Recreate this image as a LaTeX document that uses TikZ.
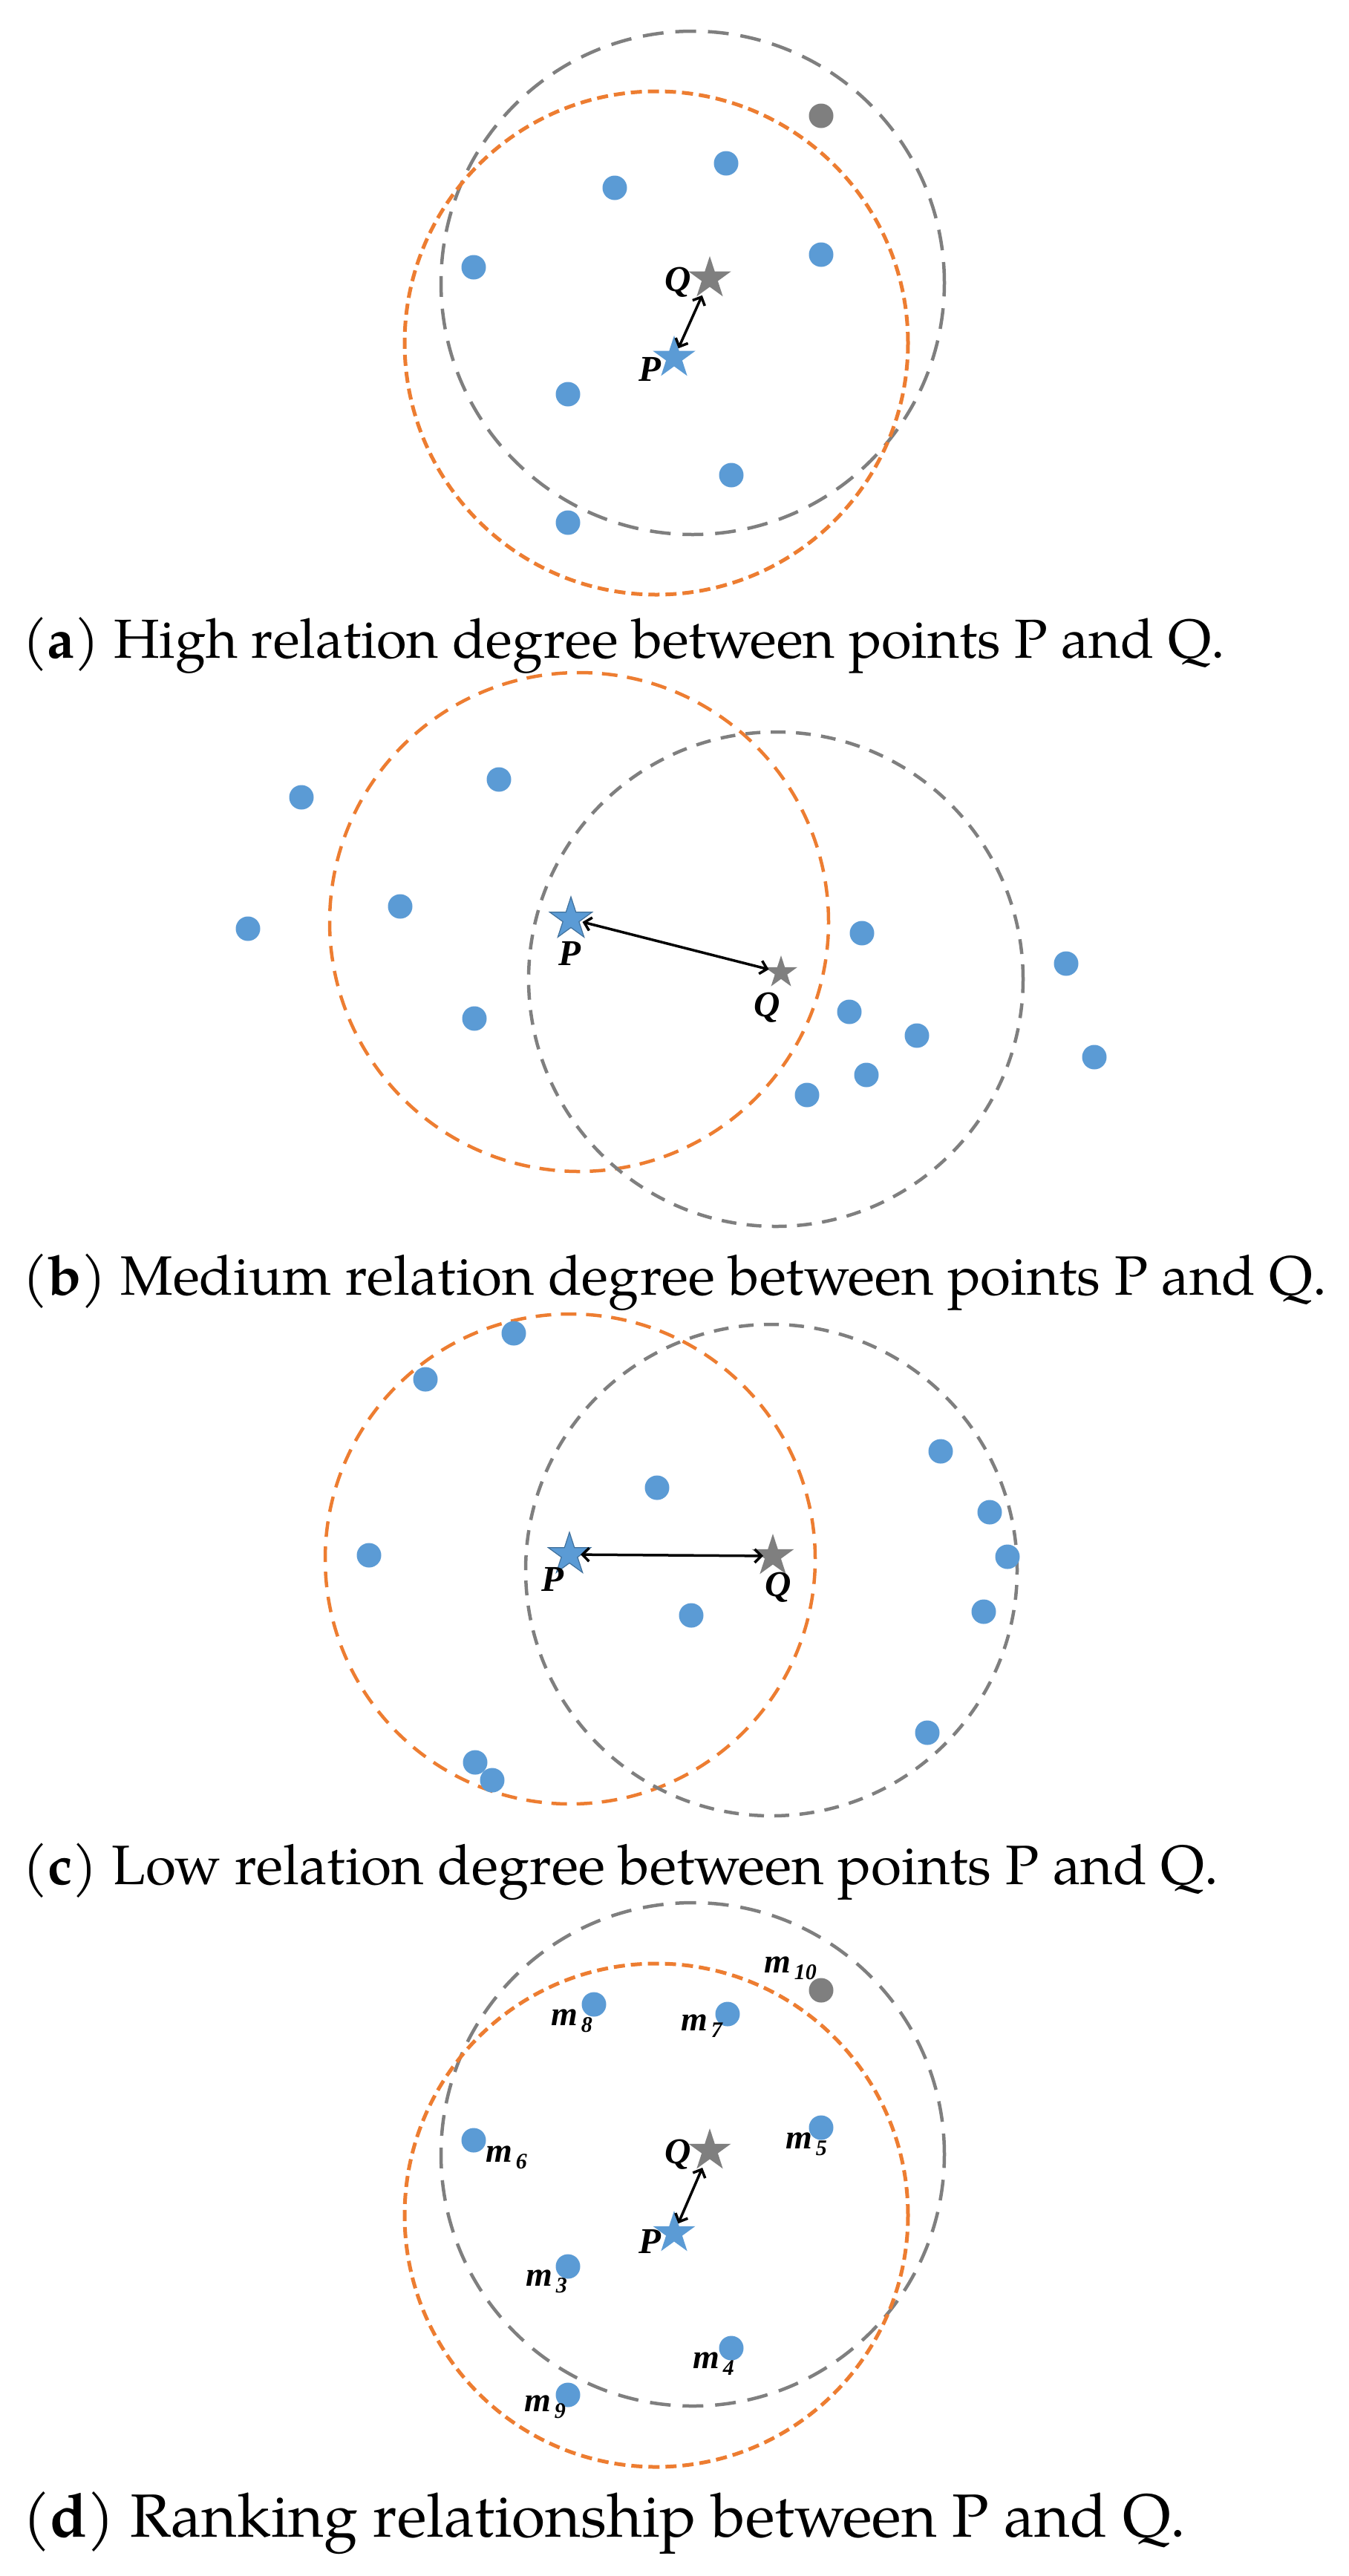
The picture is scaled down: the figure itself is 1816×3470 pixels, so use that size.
\documentclass[tikz,border=0pt]{standalone}
\usepackage{fontspec}
\setmainfont{texgyrepagella}[Extension=.otf, UprightFont=*-regular, BoldFont=*-bold, ItalicFont=*-italic, BoldItalicFont=*-bolditalic]
\newfontfamily\labfont{Liberation Serif}
\usetikzlibrary{shapes.geometric, arrows.meta}
\definecolor{dotblue}{HTML}{5B9BD5}
\definecolor{edgeblue}{HTML}{41719C}
\definecolor{rorange}{HTML}{ED7D31}
\definecolor{rgray}{HTML}{7F7F7F}
\tikzset{
  bluedot/.style={circle, fill=dotblue, inner sep=0pt, minimum size=33pt},
  graydot/.style={bluedot, fill=rgray},
  pstar/.style={star, star points=5, star point ratio=2.618, fill=dotblue, inner sep=0pt, minimum size=60pt},
  qstar/.style={pstar, fill=rgray},
  pstaro/.style={pstar, draw=edgeblue, line width=1.2pt},
  orangeA/.style={draw=rorange, line width=5pt, dash pattern=on 15pt off 8pt},
  grayA/.style={draw=rgray, line width=4.5pt, dash pattern=on 28pt off 16pt},
  orangeB/.style={draw=rorange, line width=4.5pt, dash pattern=on 21pt off 13pt},
  grayB/.style={draw=rgray, line width=4.5pt, dash pattern=on 20pt off 14pt},
  pqarrow/.style={line width=3.5pt, {Straight Barb[length=9pt,width=18pt]}-{Straight Barb[length=9pt,width=18pt]}},
  ptlabel/.style={inner sep=0pt, font=\labfont\bfseries\itshape\fontsize{49}{49}\selectfont},
  mlabel/.style={inner sep=0pt, anchor=base west, font=\labfont\bfseries\itshape\fontsize{46}{46}\selectfont},
  captext/.style={inner sep=0pt, anchor=base west, font=\fontsize{76}{90}\selectfont},
}
\newcommand{\msub}[1]{m\kern5pt\raisebox{-9pt}{\fontsize{30}{30}\selectfont #1}}
\begin{document}
\begin{tikzpicture}[x=1pt, y=-1pt]
\useasboundingbox[fill=white] (0,0) rectangle (1816,3470);
% ---------------- panel (a)
\draw[grayA] (933,381) circle[radius=339pt];
\draw[orangeA] (884,462) circle[radius=339pt];
\node[graydot] (a10) at (1106,156) {};
\node[bluedot] (a1) at (978,220) {};
\node[bluedot] (a2) at (828,253) {};
\node[bluedot] (a3) at (1106,343) {};
\node[bluedot] (a4) at (638,360) {};
\node[bluedot] (a5) at (765,531) {};
\node[bluedot] (a6) at (985,640) {};
\node[bluedot] (a7) at (765,704) {};
\node[qstar] (Qa) at (956,375) {};
\node[pstar] (Pa) at (908,482) {};
\draw[pqarrow, shorten <=14pt, shorten >=25pt] (Pa.center) -- (Qa.center);
\node[ptlabel] (QaL) at (913,380) {Q};
\node[ptlabel] (PaL) at (875,497) {P};
\node[captext] (capa) at (30,886) {\resizebox{1620pt}{!}{(\textbf{a}) High relation degree between points P and Q.}};
% ---------------- panel (b)
\draw[orangeB] (780,1242) circle[radius=336pt];
\draw[grayB] (1045,1319) circle[radius=333pt];
\node[bluedot] (b1) at (406,1074) {};
\node[bluedot] (b2) at (672,1050) {};
\node[bluedot] (b3) at (334,1251) {};
\node[bluedot] (b4) at (539,1221) {};
\node[bluedot] (b5) at (639,1372) {};
\node[bluedot] (b6) at (1161,1257) {};
\node[bluedot] (b7) at (1144,1363) {};
\node[bluedot] (b8) at (1235,1395) {};
\node[bluedot] (b9) at (1167,1448) {};
\node[bluedot] (b10) at (1087,1475) {};
\node[bluedot] (b11) at (1436,1298) {};
\node[bluedot] (b12) at (1474,1424) {};
\node[pstaro] (Pb) at (769,1238) {};
\node[qstar, minimum size=46pt] (Qb) at (1052,1310) {};
\draw[pqarrow, shorten <=16pt, shorten >=17pt] (Pb.center) -- (Qb.center);
\node[ptlabel] (PbL) at (767,1284) {P};
\node[ptlabel] (QbL) at (1033,1357) {Q};
\node[captext] (capb) at (30,1744) {\resizebox{1757pt}{!}{(\textbf{b}) Medium relation degree between points P and Q.}};
% ---------------- panel (c)
\draw[orangeB] (768,2100) circle[radius=330pt];
\draw[grayB] (1039,2115) circle[radius=331pt];
\node[bluedot] (c1) at (692,1796) {};
\node[bluedot] (c2) at (573,1858) {};
\node[bluedot] (c3) at (497,2095) {};
\node[bluedot] (c4) at (885,2004) {};
\node[bluedot] (c5) at (931,2176) {};
\node[bluedot] (c6) at (640,2374) {};
\node[bluedot] (c7) at (663,2398) {};
\node[bluedot] (c8) at (1267,1955) {};
\node[bluedot] (c9) at (1333,2037) {};
\node[bluedot] (c10) at (1357,2097) {};
\node[bluedot] (c11) at (1325,2171) {};
\node[bluedot] (c12) at (1249,2334) {};
\node[pstaro] (Pc) at (767,2094) {};
\node[qstar] (Qc) at (1041,2096) {};
\draw[pqarrow, shorten <=15pt, shorten >=13pt] (Pc.center) -- (Qc.center);
\node[ptlabel] (PcL) at (744,2127) {P};
\node[ptlabel] (QcL) at (1048,2138) {Q};
\node[captext] (capc) at (30,2538) {\resizebox{1611pt}{!}{(\textbf{c}) Low relation degree between points P and Q.}};
% ---------------- panel (d)
\draw[grayA] (933,2902) circle[radius=339pt];
\draw[orangeA] (884,2984) circle[radius=339pt];
\node[graydot] (d10) at (1106,2681) {};
\node[bluedot] (d8) at (800,2700) {};
\node[bluedot] (d7) at (980,2713) {};
\node[bluedot] (d6) at (638,2883) {};
\node[bluedot] (d5) at (1106,2866) {};
\node[bluedot] (d3) at (765,3053) {};
\node[bluedot] (d4) at (985,3163) {};
\node[bluedot] (d9) at (765,3226) {};
\node[qstar] (Qd) at (956,2897) {};
\node[pstar] (Pd) at (908,3008) {};
\draw[pqarrow, shorten <=14pt, shorten >=25pt] (Pd.center) -- (Qd.center);
\node[ptlabel] (QdL) at (913,2902) {Q};
\node[ptlabel] (PdL) at (875,3019) {P};
\node[mlabel] (m10) at (1029,2657) {\msub{10}};
\node[mlabel] (m8) at (742,2728) {\msub{8}};
\node[mlabel] (m7) at (917,2735) {\msub{7}};
\node[mlabel] (m6) at (654,2912) {\msub{6}};
\node[mlabel] (m5) at (1058,2894) {\msub{5}};
\node[mlabel] (m3) at (708,3079) {\msub{3}};
\node[mlabel] (m4) at (933,3190) {\msub{4}};
\node[mlabel] (m9) at (706,3248) {\msub{9}};
\node[captext] (capd) at (30,3417) {\resizebox{1567pt}{!}{(\textbf{d}) Ranking relationship between P and Q.}};
\end{tikzpicture}
\end{document}
